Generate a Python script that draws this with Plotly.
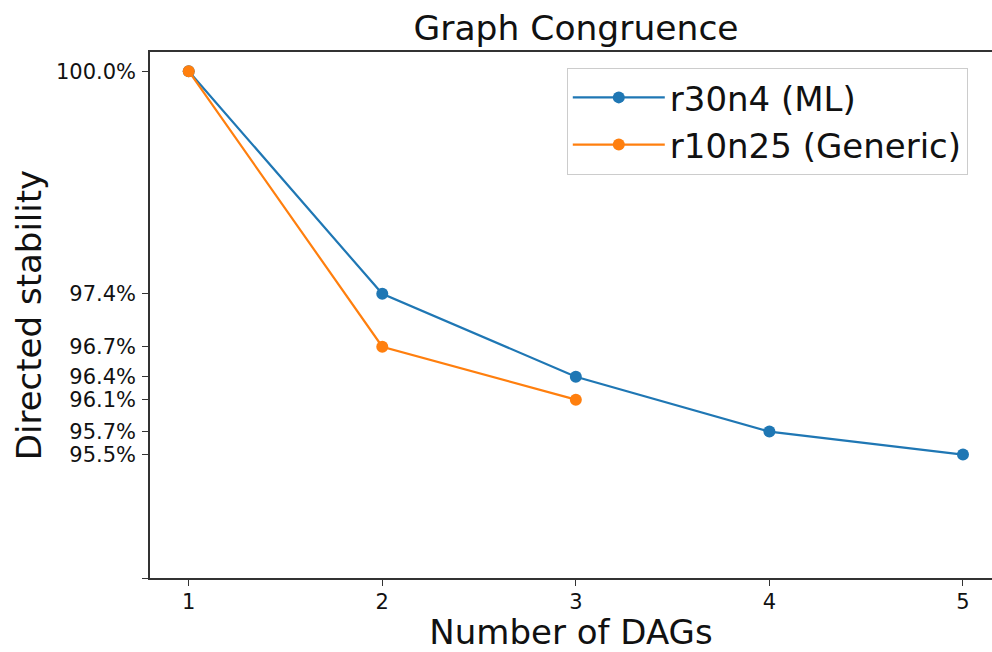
import plotly.graph_objects as go

x_ml = [1, 2, 3, 4, 5]
y_ml = [100.0, 97.364, 96.383, 95.733, 95.461]
x_gen = [1, 2, 3]
y_gen = [100.0, 96.738, 96.111]

ml_name = "r30n4 (ML)"
gen_name = "r10n25 (Generic)"

y_tickvals = [100.0, 97.364, 96.738, 96.383, 96.111, 95.733, 95.461, 94.0]
y_ticktext = ["100.0%", "97.4%", "96.7%", "96.4%", "96.1%", "95.7%", "95.5%", ""]
x_tickvals = [1, 2, 3, 4, 5]

BLUE = "#1f77b4"
ORANGE = "#ff7f0e"
FONT = "DejaVu Sans"
TXT = "#111111"

fig = go.Figure()
fig.add_trace(go.Scatter(x=x_ml, y=y_ml, mode="lines+markers", name=ml_name,
                         line=dict(color=BLUE, width=2.2), marker=dict(color=BLUE, size=12)))
fig.add_trace(go.Scatter(x=x_gen, y=y_gen, mode="lines+markers", name=gen_name,
                         line=dict(color=ORANGE, width=2.2), marker=dict(color=ORANGE, size=12)))

fig.update_layout(
    width=992, height=652,
    margin=dict(l=150, r=0, t=52, b=72),
    paper_bgcolor="white", plot_bgcolor="white",
    font=dict(family=FONT, color=TXT),
    title=dict(text="Graph Congruence", x=0.506, xref="paper", xanchor="center",
               y=1 - 28 / 652, yref="container", yanchor="middle",
               font=dict(size=34.5, family=FONT, color=TXT)),
    showlegend=True,
    legend=dict(x=0.495, y=0.97, xanchor="left", yanchor="top",
                bgcolor="rgba(255,255,255,0.8)", bordercolor="#cccccc", borderwidth=1,
                font=dict(size=34, family=FONT, color=TXT),
                itemwidth=92, tracegroupgap=4),
    xaxis=dict(range=[0.8, 5.15], tickvals=x_tickvals, showgrid=False, zeroline=False,
               showline=True, linecolor="#333333", linewidth=1.5, mirror=True,
               ticks="outside", ticklen=6, tickcolor="#333333", ticklabelstandoff=-2,
               tickfont=dict(size=21, family=FONT, color=TXT),
               title=dict(text="Number of DAGs", font=dict(size=34, family=FONT, color=TXT), standoff=14)),
    yaxis=dict(range=[94.0, 100.227], tickvals=y_tickvals, ticktext=y_ticktext,
               showgrid=False, zeroline=False,
               showline=True, linecolor="#333333", linewidth=1.5, mirror=False,
               ticks="outside", ticklen=6, tickcolor="#333333", ticklabelstandoff=2,
               tickfont=dict(size=21, family=FONT, color=TXT),
               title=dict(text="Directed stability", font=dict(size=34, family=FONT, color=TXT), standoff=4)),
)

fig.write_html("out.html")
